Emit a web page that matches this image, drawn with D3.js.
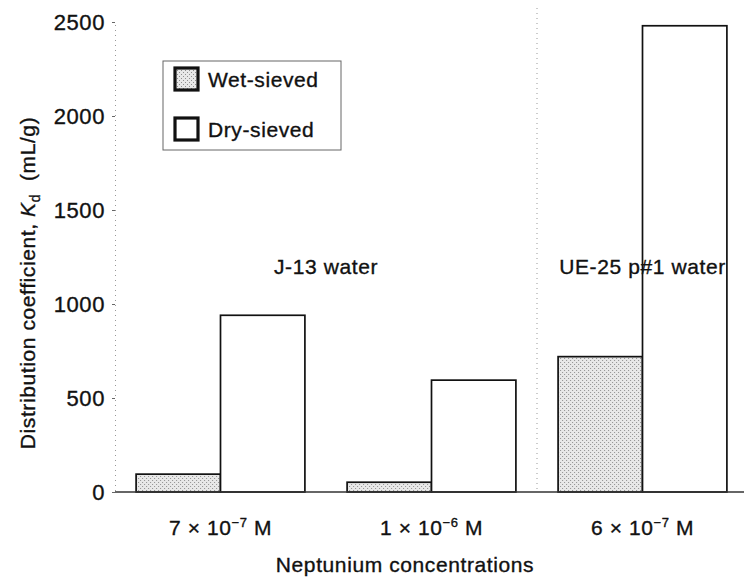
<!DOCTYPE html>
<html>
<head>
<meta charset="utf-8">
<script src="https://cdn.jsdelivr.net/npm/d3@7"></script>
<style>
  html, body { margin: 0; padding: 0; background: #fff; }
  svg text { font-family: "Liberation Sans", Arial, Helvetica, sans-serif; fill: #111; letter-spacing: 0.6px;
             stroke: #111; stroke-width: 0.35px; }
</style>
</head>
<body>
<svg id="chart" width="744" height="578"></svg>
<script>
// Neptunium sorption: distribution coefficients by concentration and sieving method
const concentrations = ["7e-7", "1e-6", "6e-7"];
const concentrationLabels = [
  { mant: "7", exp: "\u22127" },
  { mant: "1", exp: "\u22126" },
  { mant: "6", exp: "\u22127" }
];
const series = ["Wet-sieved", "Dry-sieved"];
const wetSieved = [95, 52, 720];
const drySieved = [940, 595, 2480];
const yTicks = [0, 500, 1000, 1500, 2000, 2500];
const waterGroups = [
  { label: "J-13 water", from: 0, to: 1 },
  { label: "UE-25 p#1 water", from: 2, to: 2 }
];

const svg = d3.select("#chart");
const x0 = 115, x1 = 748, yBottom = 492, yTop = 22;

const x = d3.scaleBand().domain(concentrations).range([x0, x1])
  .paddingInner(0.2).paddingOuter(0.1);
const xs = d3.scaleBand().domain(series).range([0, x.bandwidth()]);
const y = d3.scaleLinear().domain([0, 2500]).range([yBottom, yTop]);

// stipple pattern for wet-sieved bars
const defs = svg.append("defs");
const pat = defs.append("pattern").attr("id", "stipple")
  .attr("patternUnits", "userSpaceOnUse").attr("width", 4).attr("height", 4);
pat.append("rect").attr("width", 4).attr("height", 4).attr("fill", "#e8e8e8");
pat.append("rect").attr("x", 0).attr("y", 0).attr("width", 1).attr("height", 1).attr("fill", "#8f8f8f");
pat.append("rect").attr("x", 2).attr("y", 2).attr("width", 1).attr("height", 1).attr("fill", "#8f8f8f");

// y axis: faint dotted spine with small ticks
const yAxis = d3.axisLeft(y).tickValues(yTicks).tickFormat(d3.format("d"))
  .tickSize(3).tickPadding(7);
const gy = svg.append("g").attr("transform", `translate(${x0},0)`).call(yAxis);
gy.select(".domain").attr("stroke", "#999").attr("stroke-dasharray", "1,4");
gy.selectAll(".tick line").attr("stroke", "#666");
gy.selectAll(".tick text").style("font-size", "22px").attr("fill", "#111");

// dotted separator between water types
const sepX = (x(concentrations[1]) + x.bandwidth() + x(concentrations[2])) / 2;
svg.append("line").attr("x1", sepX).attr("x2", sepX)
  .attr("y1", 8).attr("y2", yBottom)
  .attr("stroke", "#999").attr("stroke-dasharray", "1,4");

// bars
const rows = concentrations.map((c, i) => ({ c, i, values: [wetSieved[i], drySieved[i]] }));
const groups = svg.append("g").selectAll("g").data(rows).join("g")
  .attr("transform", d => `translate(${x(d.c)},0)`);
groups.selectAll("rect")
  .data(d => d.values.map((v, k) => ({ key: series[k], v })))
  .join("rect")
  .attr("x", d => xs(d.key))
  .attr("y", d => y(d.v))
  .attr("width", xs.bandwidth())
  .attr("height", d => y(0) - y(d.v))
  .attr("fill", d => d.key === "Wet-sieved" ? "url(#stipple)" : "#fff")
  .attr("stroke", "#111")
  .attr("stroke-width", 1.7);

// baseline
svg.append("line").attr("x1", x0).attr("x2", 744)
  .attr("y1", y(0)).attr("y2", y(0))
  .attr("stroke", "#333").attr("stroke-width", 1.4);

// x category labels with exponents
const xl = svg.append("g").selectAll("text").data(concentrationLabels).join("text")
  .attr("x", (d, i) => x(concentrations[i]) + x.bandwidth() / 2)
  .attr("y", 535)
  .attr("text-anchor", "middle")
  .style("font-size", "21px");
xl.append("tspan").text(d => `${d.mant} \u00d7 10`);
xl.append("tspan").text(d => d.exp).attr("dy", -8).style("font-size", "13px");
xl.append("tspan").text(" M").attr("dy", 8);

// x axis title
svg.append("text").attr("x", 405).attr("y", 572)
  .attr("text-anchor", "middle").style("font-size", "21px")
  .text("Neptunium concentrations");

// y axis title
const yt = svg.append("text")
  .attr("transform", "translate(35,283) rotate(-90)")
  .attr("text-anchor", "middle").style("font-size", "21px");
yt.append("tspan").text("Distribution coefficient, ");
yt.append("tspan").text("K").style("font-style", "italic");
yt.append("tspan").text("d").attr("dy", 5).style("font-size", "14px");
yt.append("tspan").text("\u00a0\u00a0(mL/g)").attr("dy", -5);

// water type annotations
svg.append("g").selectAll("text").data(waterGroups).join("text")
  .attr("x", d => (x(concentrations[d.from]) + x(concentrations[d.to]) + x.bandwidth()) / 2)
  .attr("y", 274)
  .attr("text-anchor", "middle")
  .style("font-size", "21px")
  .text(d => d.label);

// legend
const lg = svg.append("g").attr("transform", "translate(163,61)");
lg.append("rect").attr("width", 178).attr("height", 89)
  .attr("fill", "#fff").attr("stroke", "#666").attr("stroke-width", 1);
const items = lg.selectAll("g").data(series).join("g")
  .attr("transform", (d, i) => `translate(12,${7 + i * 50})`);
items.append("rect").attr("width", 23).attr("height", 22)
  .attr("fill", d => d === "Wet-sieved" ? "url(#stipple)" : "#fff")
  .attr("stroke", "#111").attr("stroke-width", 3.2);
items.append("text").attr("x", 33).attr("y", 19)
  .style("font-size", "21px").text(d => d);
</script>
</body>
</html>
